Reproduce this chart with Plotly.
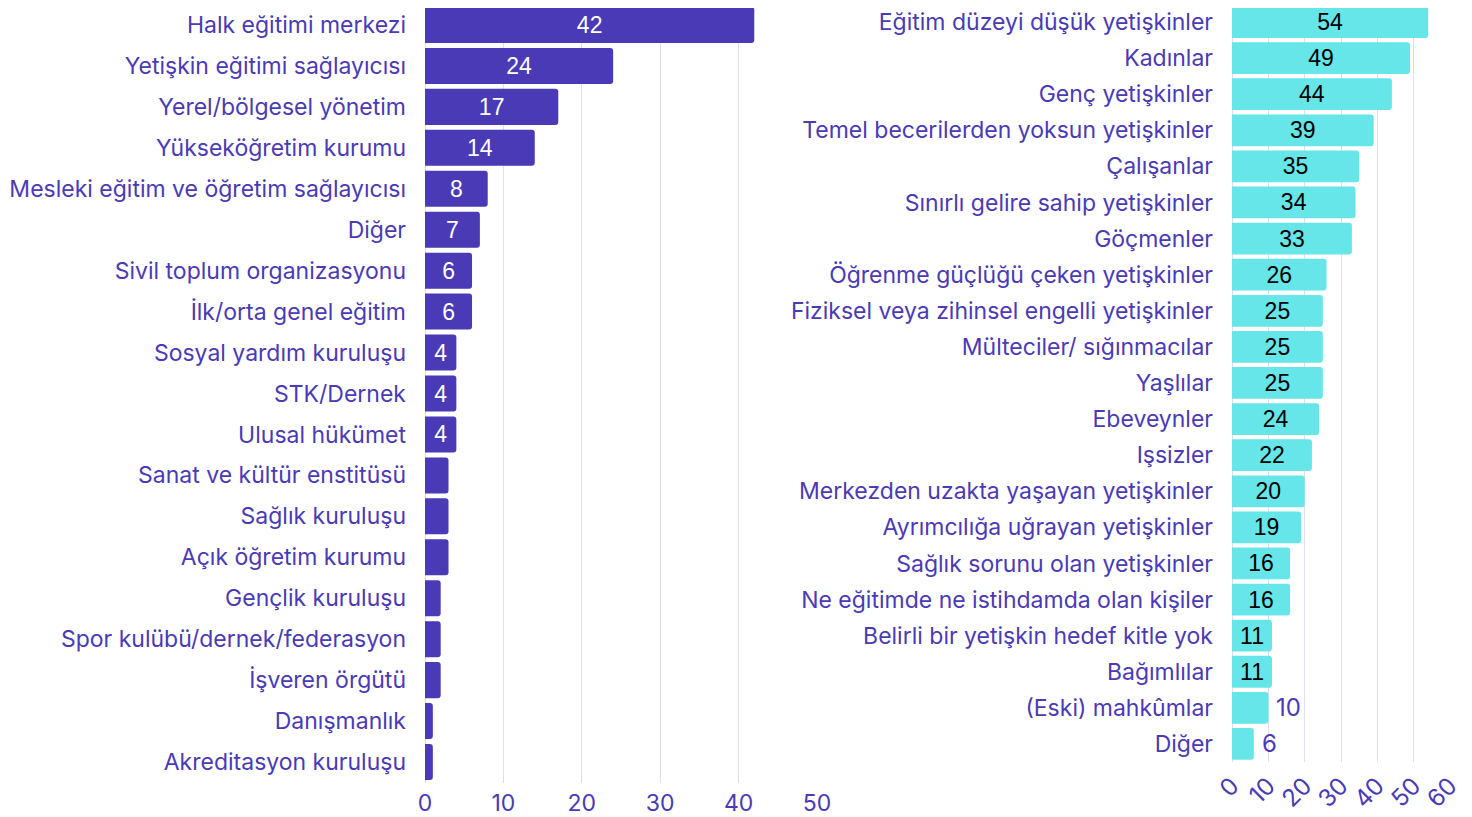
import plotly.graph_objects as go

left_categories = [
    "Halk eğitimi merkezi", "Yetişkin eğitimi sağlayıcısı", "Yerel/bölgesel yönetim",
    "Yükseköğretim kurumu", "Mesleki eğitim ve öğretim sağlayıcısı", "Diğer",
    "Sivil toplum organizasyonu", "İlk/orta genel eğitim", "Sosyal yardım kuruluşu",
    "STK/Dernek", "Ulusal hükümet", "Sanat ve kültür enstitüsü", "Sağlık kuruluşu",
    "Açık öğretim kurumu", "Gençlik kuruluşu", "Spor kulübü/dernek/federasyon",
    "İşveren örgütü", "Danışmanlık", "Akreditasyon kuruluşu",
]
left_values = [42, 24, 17, 14, 8, 7, 6, 6, 4, 4, 4, 3, 3, 3, 2, 2, 2, 1, 1]

right_categories = [
    "Eğitim düzeyi düşük yetişkinler", "Kadınlar", "Genç yetişkinler",
    "Temel becerilerden yoksun yetişkinler", "Çalışanlar", "Sınırlı gelire sahip yetişkinler",
    "Göçmenler", "Öğrenme güçlüğü çeken yetişkinler", "Fiziksel veya zihinsel engelli yetişkinler",
    "Mülteciler/ sığınmacılar", "Yaşlılar", "Ebeveynler", "Işsizler",
    "Merkezden uzakta yaşayan yetişkinler", "Ayrımcılığa uğrayan yetişkinler",
    "Sağlık sorunu olan yetişkinler", "Ne eğitimde ne istihdamda olan kişiler",
    "Belirli bir yetişkin hedef kitle yok", "Bağımlılar", "(Eski) mahkûmlar", "Diğer",
]
right_values = [54, 49, 44, 39, 35, 34, 33, 26, 25, 25, 25, 24, 22, 20, 19, 16, 16, 11, 11, 10, 6]

left_ticks = [0, 10, 20, 30, 40, 50]
right_ticks = [0, 10, 20, 30, 40, 50, 60]

PURPLE = "#4B3AB5"
CYAN = "#66E6E8"
GRID = "#DEDBF2"
FONT = "Inter"
FS = 23

# figure sits at (8,8) inside the page body and reaches the window's edges
W, H = 1464, 809
OX, OY = 8, 8

def xd(a, b):
    return [(a - OX) / W, (b - OX) / W]

def yd(top, bottom):
    return [(H + OY - bottom) / H, (H + OY - top) / H]

left_text = [str(v) if v >= 4 else "" for v in left_values]
right_in = [v > 10 for v in right_values]
right_text = [str(v) if inside else "" for v, inside in zip(right_values, right_in)]

fig = go.Figure()
fig.add_trace(go.Bar(
    y=left_categories, x=left_values, orientation="h",
    marker=dict(color=PURPLE, line=dict(width=0)),
    text=left_text, textposition="inside", insidetextanchor="middle", textangle=0,
    textfont=dict(color="white", size=23, family="Liberation Sans"),
    insidetextfont=dict(color="white", size=23, family="Liberation Sans"),
    constraintext="none", xaxis="x", yaxis="y", cliponaxis=False,
    hoverinfo="x+y",
))
fig.add_trace(go.Bar(
    y=right_categories, x=right_values, orientation="h",
    marker=dict(color=CYAN, line=dict(width=0)),
    text=right_text, textposition="inside", insidetextanchor="middle", textangle=0,
    textfont=dict(color="black", size=23, family="Liberation Sans"),
    insidetextfont=dict(color="black", size=23, family="Liberation Sans"),
    constraintext="none", xaxis="x2", yaxis="y2", cliponaxis=False,
    hoverinfo="x+y",
))

# values of short bars written just past the bar end, in the axis font
for v, c, inside in zip(right_values, right_categories, right_in):
    if not inside:
        fig.add_annotation(x=v, y=c, xref="x2", yref="y2", text=str(v),
                           showarrow=False, xanchor="left", xshift=6,
                           font=dict(family=FONT, size=24, color=PURPLE))

axis_font = dict(family=FONT, size=FS, color=PURPLE)

# left: row pitch ~40.94px, first row center at y=25; plot top clamped at y=8
l_pitch = 40.94
l_start = -0.5 + (8 - 4.5) / l_pitch
# right: row pitch ~36.1px, first row center at y=22
r_pitch = 36.1
r_start = -0.5 + (8 - 3.95) / r_pitch

fig.update_layout(
    width=W, height=H,
    margin=dict(l=0, r=0, t=0, b=0),
    paper_bgcolor="white", plot_bgcolor="white",
    showlegend=False, bargap=0.12, barcornerradius=3,
    xaxis=dict(domain=xd(425, 817), range=[0, 50], tickvals=left_ticks,
               showgrid=True, gridcolor=GRID, gridwidth=1, zeroline=True,
               zerolinecolor=GRID, zerolinewidth=1, tickfont=axis_font,
               anchor="y", automargin=False, ticks="", showline=False,
               ticklabelstandoff=4),
    yaxis=dict(domain=yd(8, 782.5), range=[len(left_values) - 0.5, l_start],
               tickfont=axis_font, anchor="x", automargin=False, ticks="",
               ticklabelstandoff=18, showgrid=False),
    xaxis2=dict(domain=xd(1232, 1450), range=[0, 60], tickvals=right_ticks,
                showgrid=True, gridcolor=GRID, gridwidth=1, zeroline=True,
                zerolinecolor=GRID, zerolinewidth=1, tickfont=dict(family=FONT, size=24, color=PURPLE),
                tickangle=-45, anchor="y2", automargin=False, ticks="", showline=False,
                ticklabelstandoff=4),
    yaxis2=dict(domain=yd(8, 762), range=[len(right_values) - 0.5, r_start],
                tickfont=axis_font, anchor="x2", automargin=False, ticks="",
                ticklabelstandoff=18, showgrid=False),
)

fig.write_html("out.html")
